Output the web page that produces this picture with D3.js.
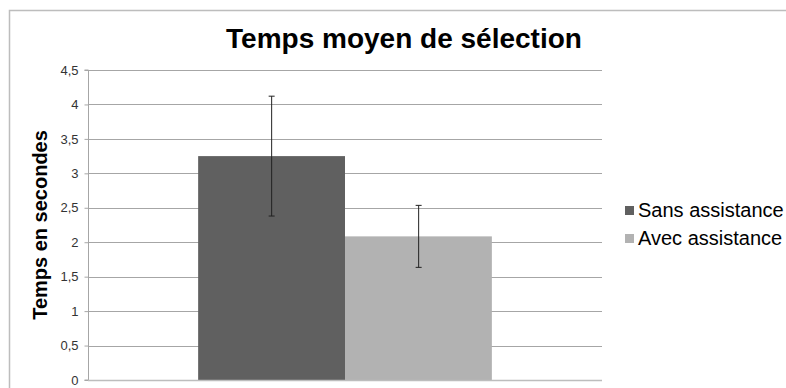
<!DOCTYPE html>
<html>
<head>
<meta charset="utf-8">
<script src="https://cdn.jsdelivr.net/npm/d3@7"></script>
<style>
  body { margin: 0; background: #fff; }
  svg { display: block; font-family: "Liberation Sans", Arial, sans-serif; }
</style>
</head>
<body>
<script>
// data
const categories = [""];
const seriesNames = ["Sans assistance", "Avec assistance"];
const seriesColors = ["#606060", "#b2b2b2"];
const means = [3.25, 2.085];
const errors = [0.87, 0.45];
const yTicks = [0, 0.5, 1, 1.5, 2, 2.5, 3, 3.5, 4, 4.5];

const width = 786;
const height = 388;
const margin = { left: 88, right: 184, top: 70, bottom: 8 };

const svg = d3.select("body").append("svg")
    .attr("width", width)
    .attr("height", height);

// outer frame
svg.append("path")
    .attr("d", `M9.5,${height} V10.5 H${width}`)
    .attr("fill", "none")
    .attr("stroke", "#bdbdbd")
    .attr("stroke-width", 1.5);

// gap width 75% like the spreadsheet default
const x = d3.scaleBand()
    .domain(categories)
    .range([margin.left, width - margin.right])
    .paddingInner(0)
    .paddingOuter(0.375);

const xSub = d3.scaleBand()
    .domain(seriesNames)
    .range([0, x.bandwidth()]);

const y = d3.scaleLinear()
    .domain([0, 4.5])
    .range([height - margin.bottom, margin.top]);

// gridlines
svg.append("g")
    .selectAll("line")
    .data(yTicks.slice(1))
    .join("line")
    .attr("x1", margin.left)
    .attr("x2", width - margin.right)
    .attr("y1", d => Math.round(y(d)) + 0.5)
    .attr("y2", d => Math.round(y(d)) + 0.5)
    .attr("stroke", "#a6a6a6")
    .attr("stroke-width", 1);

// y axis
const yAxis = svg.append("g")
    .attr("transform", `translate(${margin.left + 0.5},0)`)
    .call(d3.axisLeft(y)
        .tickValues(yTicks)
        .tickSize(4)
        .tickPadding(6)
        .tickFormat(d => String(d).replace(".", ",")));
yAxis.select(".domain").attr("stroke", "#a6a6a6").attr("d", `M-4,${y(0)}H0V${y(4.5)}H-4`);
yAxis.selectAll(".tick line").attr("stroke", "#a6a6a6");
yAxis.selectAll(".tick text")
    .attr("fill", "#333")
    .style("font-size", "13px")
    .style("font-family", "Liberation Sans, Arial, sans-serif");

// bars
const group = svg.append("g")
    .attr("transform", `translate(${x(categories[0])},0)`);

group.selectAll("rect")
    .data(seriesNames)
    .join("rect")
    .attr("x", d => xSub(d))
    .attr("y", (d, i) => y(means[i]))
    .attr("width", xSub.bandwidth())
    .attr("height", (d, i) => y(0) - y(means[i]))
    .attr("fill", (d, i) => seriesColors[i]);

// x axis baseline
svg.append("line")
    .attr("x1", margin.left)
    .attr("x2", width - margin.right)
    .attr("y1", y(0) + 0.5)
    .attr("y2", y(0) + 0.5)
    .attr("stroke", "#bdbdbd")
    .attr("stroke-width", 1.5);

// error bars
const err = group.selectAll(".err")
    .data(seriesNames)
    .join("g")
    .attr("class", "err")
    .attr("transform", d => `translate(${Math.round(xSub(d) + xSub.bandwidth() / 2) + 0.5},0)`);

err.append("line")
    .attr("y1", (d, i) => y(means[i] + errors[i]))
    .attr("y2", (d, i) => y(means[i] - errors[i]))
    .attr("stroke", "#222");
err.selectAll(".cap")
    .data((d, i) => [means[i] + errors[i], means[i] - errors[i]])
    .join("line")
    .attr("class", "cap")
    .attr("x1", -3).attr("x2", 3)
    .attr("y1", v => y(v)).attr("y2", v => y(v))
    .attr("stroke", "#222");

// title
svg.append("text")
    .attr("x", 404)
    .attr("y", 48)
    .attr("text-anchor", "middle")
    .style("font-size", "28px")
    .style("font-weight", "bold")
    .text("Temps moyen de sélection");

// y axis title
svg.append("text")
    .attr("transform", `translate(47,${(y(0) + y(4.5)) / 2}) rotate(-90)`)
    .attr("text-anchor", "middle")
    .style("font-size", "20px")
    .style("font-weight", "bold")
    .text("Temps en secondes");

// legend
const legend = svg.append("g")
    .selectAll("g")
    .data(seriesNames)
    .join("g")
    .attr("transform", (d, i) => `translate(625,${206 + i * 28})`);
legend.append("rect")
    .attr("width", 9)
    .attr("height", 9)
    .attr("fill", (d, i) => seriesColors[i]);
legend.append("text")
    .attr("x", 13)
    .attr("y", 11)
    .style("font-size", "20px")
    .text(d => d);
</script>
</body>
</html>
